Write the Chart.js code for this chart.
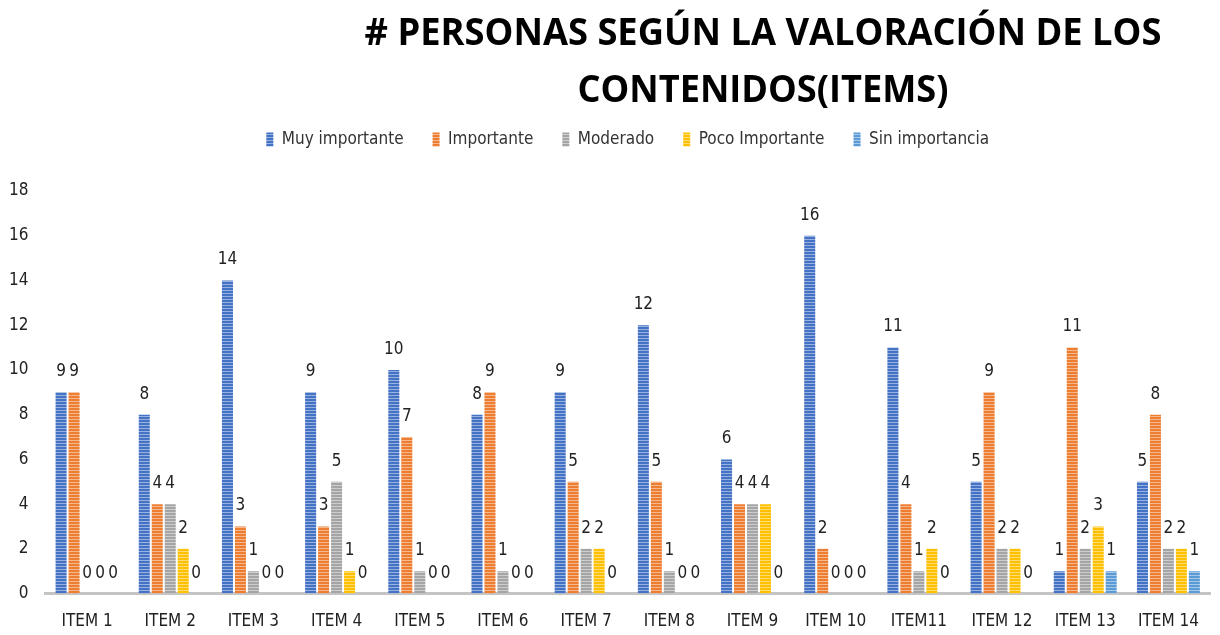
<!DOCTYPE html>
<html>
<head>
<meta charset="utf-8">
<script src="https://cdn.jsdelivr.net/npm/chart.js@4.4.1/dist/chart.umd.min.js"></script>
<style>
  html, body { margin: 0; padding: 0; background: #fff; }
  #wrap { width: 1220px; height: 635px; position: relative; }
</style>
</head>
<body>
<div id="wrap"><canvas id="valoracionChart" width="1220" height="635"></canvas></div>
<script>
// Datos
const titleLines = ['# PERSONAS SEGÚN LA VALORACIÓN DE LOS', 'CONTENIDOS(ITEMS)'];
const items = ['ITEM 1', 'ITEM 2', 'ITEM 3', 'ITEM 4', 'ITEM 5', 'ITEM 6', 'ITEM 7',
               'ITEM 8', 'ITEM 9', 'ITEM 10', 'ITEM11', 'ITEM 12', 'ITEM 13', 'ITEM 14'];
const muyImportante  = [9, 8, 14, 9, 10, 8, 9, 12, 6, 16, 11, 5, 1, 5];
const importante     = [9, 4, 3, 3, 7, 9, 5, 5, 4, 2, 4, 9, 11, 8];
const moderado       = [0, 4, 1, 5, 1, 1, 2, 1, 4, 0, 1, 2, 2, 2];
const pocoImportante = [0, 2, 0, 1, 0, 0, 2, 0, 4, 0, 2, 2, 3, 2];
const sinImportancia = [0, 0, 0, 0, 0, 0, 0, 0, 0, 0, 0, 0, 1, 1];
const yTicks = [0, 2, 4, 6, 8, 10, 12, 14, 16, 18];

const FONT = "'Liberation Sans Narrow', 'DejaVu Sans Condensed', 'Open Sans', sans-serif";

// Relleno rayado horizontal, como en el original
function stripes(color) {
    const c = document.createElement('canvas');
    c.width = 4;
    c.height = 3;
    const g = c.getContext('2d');
    g.fillStyle = color;
    g.fillRect(0, 0, 4, 3);
    g.fillStyle = 'rgba(255,255,255,0.45)';
    g.fillRect(0, 2, 4, 1);
    return g.createPattern(c, 'repeat');
}

// Etiquetas de valor encima de cada barra
const valueLabels = {
    id: 'valueLabels',
    afterDatasetsDraw(chart) {
        const ctx = chart.ctx;
        ctx.save();
        ctx.font = '17px ' + FONT;
        ctx.fillStyle = '#222';
        ctx.textAlign = 'center';
        ctx.textBaseline = 'bottom';
        chart.data.datasets.forEach((ds, i) => {
            const meta = chart.getDatasetMeta(i);
            meta.data.forEach((bar, j) => {
                ctx.fillText(String(ds.data[j]), bar.x, bar.y - 12);
            });
        });
        ctx.restore();
    }
};

// Deja mas aire entre la leyenda y el area del grafico
const legendGap = {
    id: 'legendGap',
    beforeInit(chart) {
        const fit = chart.legend.fit;
        chart.legend.fit = function () {
            fit.call(this);
            this.height += 33;
        };
    }
};

// Titulo en dos lineas, desplazado a la derecha como en el original
const titlePlugin = {
    id: 'titlePlugin',
    afterDraw(chart) {
        const ctx = chart.ctx;
        ctx.save();
        ctx.font = "bold 38px 'Open Sans', sans-serif";
        ctx.fillStyle = '#000';
        ctx.textBaseline = 'middle';
        ctx.textAlign = 'center';
        const cx = 763;
        const widths = [797, 371];
        const ys = [34, 91];
        titleLines.forEach((t, k) => {
            const w = ctx.measureText(t).width;
            const sx = widths[k] / w;
            ctx.save();
            ctx.translate(cx, ys[k]);
            ctx.scale(sx, 1);
            ctx.fillText(t, 0, 0);
            ctx.restore();
        });
        ctx.restore();
    }
};

const series = [
    { label: 'Muy importante', data: muyImportante, color: '#4472C4' },
    { label: 'Importante', data: importante, color: '#ED7D31' },
    { label: 'Moderado', data: moderado, color: '#A5A5A5' },
    { label: 'Poco Importante', data: pocoImportante, color: '#FFC000' },
    { label: 'Sin importancia', data: sinImportancia, color: '#5B9BD5' }
];

new Chart(document.getElementById('valoracionChart'), {
    type: 'bar',
    data: {
        labels: items,
        datasets: series.map(s => ({
            label: s.label,
            data: s.data,
            backgroundColor: stripes(s.color),
            borderWidth: 0,
            categoryPercentage: 0.78,
            barPercentage: 0.85
        }))
    },
    options: {
        responsive: false,
        animation: false,
        layout: { padding: { top: 102, right: 10, left: -8, bottom: -15 } },
        plugins: {
            title: { display: false },
            tooltip: { enabled: false },
            legend: {
                display: true,
                position: 'top',
                fullSize: false,
                labels: {
                    boxWidth: 7,
                    boxHeight: 14,
                    padding: 29,
                    color: '#333',
                    font: { family: FONT, size: 17 }
                }
            }
        },
        scales: {
            x: {
                grid: { display: false, drawTicks: false },
                border: { display: true, color: '#C4C4C4', width: 3 },
                ticks: { color: '#222', padding: 18, font: { family: FONT, size: 17 } }
            },
            y: {
                min: 0,
                max: 18,
                afterBuildTicks: axis => { axis.ticks = yTicks.map(v => ({ value: v })); },
                grid: { display: false, drawTicks: false },
                border: { display: false },
                ticks: { color: '#222', padding: 17, font: { family: FONT, size: 17 } }
            }
        }
    },
    plugins: [valueLabels, legendGap, titlePlugin]
});
</script>
</body>
</html>
